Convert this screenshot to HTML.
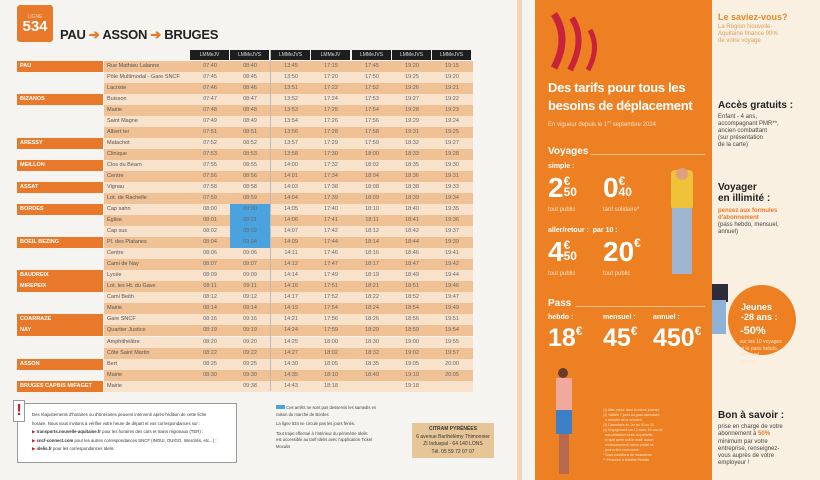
<!DOCTYPE html>
<html><head><meta charset="utf-8">
<style>
*{margin:0;padding:0;box-sizing:border-box}
body{width:820px;height:480px;overflow:hidden;background:#f6f4f1;font-family:"Liberation Sans",sans-serif;position:relative}
.a{position:absolute}
.row{position:absolute;left:104px;width:369px;height:11px}
.town{position:absolute;left:17px;width:86px;height:11px;background:#e8792a;color:#fff;font-size:5.5px;font-weight:bold;line-height:11px;padding-left:3px;white-space:nowrap}
.stop{position:absolute;left:107px;font-size:5.5px;line-height:11px;color:#555;white-space:nowrap}
.t{position:absolute;width:40px;text-align:center;font-size:5.5px;line-height:11px;color:#666}
.h{position:absolute;top:50px;height:10px;width:39px;background:#1e1e1e;color:#ddd;font-size:5px;text-align:center;line-height:10px}
.w{color:#fff;font-weight:bold;white-space:nowrap}
.sm{font-size:6px;color:#fbe0c6;white-space:nowrap}
.nw{white-space:nowrap}
</style></head><body>
<div class="a" style="left:17px;top:5px;width:36px;height:37px;background:#e8792a;border-radius:3px;color:#fff;text-align:center">
<div style="font-size:5px;margin-top:9px;color:#fbd3b0">LIGNE</div>
<div style="font-size:15px;font-weight:bold;line-height:14px">534</div></div>
<div class="a nw" style="left:60px;top:27px;font-size:13px;font-weight:bold;color:#222;letter-spacing:-0.3px">PAU <span style="color:#e8792a">➔</span> ASSON <span style="color:#e8792a">➔</span> BRUGES</div>
<div id="tbl"></div>
<script>
const d=[
["PAU","Rue Mathieu Lalanne","07:40 08:40 13:45 17:15 17:45 19:20 19:15"],
["","Pôle Multimodal - Gare SNCF","07:45 08:45 13:50 17:20 17:50 19:25 19:20"],
["","Lacoste","07:46 08:46 13:51 17:22 17:52 19:26 19:21"],
["BIZANOS","Buisson","07:47 08:47 13:52 17:24 17:53 19:27 19:22"],
["","Mairie","07:48 08:48 13:53 17:25 17:54 19:28 19:23"],
["","Saint Magne","07:49 08:49 13:54 17:26 17:56 19:29 19:24"],
["","Albert Ier","07:51 08:51 13:56 17:28 17:58 19:31 19:25"],
["ARESSY","Matachot","07:52 08:52 13:57 17:29 17:59 18:32 19:27"],
["","Clinique","07:53 08:53 13:58 17:30 18:00 18:33 19:28"],
["MEILLON","Clos du Béarn","07:55 08:55 14:00 17:32 18:02 18:35 19:30"],
["","Centre","07:56 08:56 14:01 17:34 18:04 18:36 19:31"],
["ASSAT","Vignau","07:58 08:58 14:03 17:38 18:08 18:38 19:33"],
["","Lot. de Rachelle","07:59 08:59 14:04 17:39 18:09 18:39 19:34"],
["BORDES","Cap sahn","08:00 09:00 14:05 17:40 18:10 18:40 19:35"],
["","Église","08:01 09:01 14:06 17:41 18:11 18:41 19:36"],
["","Cap sus","08:02 09:02 14:07 17:42 18:12 18:42 19:37"],
["BOEIL BEZING","Pl. des Platanes","08:04 09:04 14:09 17:44 18:14 18:44 19:39"],
["","Centre","08:06 09:06 14:11 17:46 18:16 18:46 19:41"],
["","Cami de Nay","08:07 09:07 14:12 17:47 18:17 18:47 19:42"],
["BAUDREIX","Lycée","08:09 09:09 14:14 17:49 18:19 18:49 19:44"],
["MIREPEIX","Lot. les Ht. du Gave","08:11 09:11 14:16 17:51 18:21 18:51 19:46"],
["","Cami Beith","08:12 09:12 14:17 17:52 18:22 18:52 19:47"],
["","Mairie","08:14 09:14 14:19 17:54 18:24 18:54 19:49"],
["COARRAZE","Gare SNCF","08:16 09:16 14:21 17:56 18:26 18:56 19:51"],
["NAY","Quartier Justice","08:19 09:19 14:24 17:59 18:29 18:59 19:54"],
["","Amphithéâtre","08:20 09:20 14:25 18:00 18:30 19:00 19:55"],
["","Côte Saint Martin","08:22 09:22 14:27 18:02 18:32 19:02 19:57"],
["ASSON","Bert","08:25 09:25 14:30 18:05 18:35 19:05 20:00"],
["","Mairie","08:30 09:30 14:35 18:10 18:40 19:10 20:05"],
["BRUGES CAPBIS MIFAGET","Mairie","- 09:38 14:43 18:18 - 19:18 -"]];
const cx=[190,230,271,311,352,392,432],hd=["LMMeJV","LMMeJVS","LMMeJVS","LMMeJV","LMMeJVS","LMMeJVS","LMMeJVS"];
let h="";
cx.forEach((x,i)=>h+=`<div class="h" style="left:${x}px">${hd[i]}</div>`);
d.forEach((r,i)=>{const y=61+i*11.02;
h+=`<div class="row" style="top:${y}px;background:${i%2?'#f8e2cb':'#efc194'}"></div>`;
if(r[0])h+=`<div class="town" style="top:${y}px">${r[0]}</div>`;
h+=`<div class="stop" style="top:${y}px">${r[1]}</div>`;
r[2].split(" ").forEach((t,j)=>{let bg=(j==1&&i>=13&&i<=16)?'background:#4aa3df;':'';
h+=`<div class="t" style="left:${cx[j]}px;top:${y}px;${bg}">${t=='-'?'':t}</div>`});});
h+=`<div class="a" style="left:270px;top:50px;width:1px;height:341px;background:#bbb"></div>`;
document.getElementById("tbl").innerHTML=h;
</script>
<div class="a" style="left:17px;top:403px;width:220px;height:60px;border:1px solid #999;background:#fff"></div>
<div class="a" style="left:13px;top:400px;width:12px;height:22px;border:1px solid #999;background:#fff;color:#c0202a;font-weight:bold;font-size:16px;text-align:center;line-height:20px">!</div>
<div class="a nw" style="left:32px;top:411px;font-size:4.3px;line-height:8.5px;color:#333">Des réajustements d'horaires ou d'itinéraires peuvent intervenir après l'édition de cette fiche<br>horaire. Nous vous invitons à vérifier votre heure de départ et vos correspondances sur :<br><span style="color:#c0202a">▶</span> <b>transports.nouvelle-aquitaine.fr</b> pour les horaires des cars et trains régionaux (TER) ;<br><span style="color:#c0202a">▶</span> <b>sncf-connect.com</b> pour les autres correspondances SNCF (INOUI, OUIGO, Intercités, etc...) ;<br><span style="color:#c0202a">▶</span> <b>idelis.fr</b> pour les correspondances Idelis</div>
<div class="a nw" style="left:276px;top:405px;font-size:4.2px;line-height:6.5px;color:#444"><span style="display:inline-block;width:9px;height:4px;background:#4aa3df"></span> Ces arrêts ne sont pas desservis les samedis en<br>raison du marché de Bordes<div style="margin-top:3px">La ligne 534 ne circule pas les jours fériés.</div><div style="margin-top:3px">Tout trajet effectué à l'intérieur du périmètre Idelis<br>est accessible au tarif Idelis avec l'application Ticket<br>Mocalis</div></div>
<div class="a nw" style="left:412px;top:423px;width:82px;height:35px;background:#e6c698;font-size:5px;text-align:center;line-height:7.5px;color:#333;padding-top:3px"><b>CITRAM PYRÉNÉES</b><br>6 avenue Barthélémy Thimonnier<br>ZI Induspal - 64 140 LONS<br>Tél. 05 59 72 07 07</div>
<div class="a" style="left:517px;top:0;width:5px;height:480px;background:#ec9a5a;opacity:.35"></div>
<div class="a" style="left:535px;top:0;width:177px;height:480px;background:#ec8022"></div>
<div class="a" style="left:712px;top:0;width:108px;height:480px;background:#f9f0e2"></div>
<svg class="a" style="left:540px;top:8px" width="70" height="65"><path d="M14 6 Q30 30 14 60" stroke="#c8233a" stroke-width="7" fill="none"/><path d="M32 10 Q46 32 30 62" stroke="#c8233a" stroke-width="6" fill="none"/><path d="M50 22 Q60 40 48 62" stroke="#c8233a" stroke-width="5" fill="none"/></svg>
<div class="a w" style="left:548px;top:79px;font-size:13px;line-height:18px;letter-spacing:-0.3px">Des tarifs pour tous les<br>besoins de déplacement</div>
<div class="a sm" style="left:548px;top:119px">En vigueur depuis le 1<sup style="font-size:4px">er</sup> septembre 2024</div>
<div class="a w" style="left:548px;top:146px;font-size:10px">Voyages</div>
<div class="a" style="left:590px;top:154px;width:115px;height:1px;background:#f6c08a"></div>
<div class="a w" style="left:548px;top:163px;font-size:7px">simple :</div>
<div class="a w" style="left:548px;top:172px;font-size:28px">2<span style="font-size:12px;display:inline-block;line-height:11px;vertical-align:top;margin-top:4px">€<br>50</span></div>
<div class="a w" style="left:603px;top:172px;font-size:28px">0<span style="font-size:12px;display:inline-block;line-height:11px;vertical-align:top;margin-top:4px">€<br>40</span></div>
<div class="a sm" style="left:548px;top:207px">tout public</div><div class="a sm" style="left:603px;top:207px">tarif solidaire*</div>
<div class="a w" style="left:548px;top:227px;font-size:7px">aller/retour :&nbsp; par 10 :</div>
<div class="a w" style="left:548px;top:236px;font-size:28px">4<span style="font-size:12px;display:inline-block;line-height:11px;vertical-align:top;margin-top:4px">€<br>50</span></div>
<div class="a w" style="left:603px;top:236px;font-size:28px">20<span style="font-size:12px;vertical-align:top">€</span></div>
<div class="a sm" style="left:548px;top:271px">tout public</div><div class="a sm" style="left:603px;top:271px">tout public</div>
<div class="a w" style="left:548px;top:298px;font-size:10px">Pass</div>
<div class="a" style="left:575px;top:306px;width:130px;height:1px;background:#f6c08a"></div>
<div class="a w" style="left:548px;top:314px;font-size:7px">hebdo :</div><div class="a w" style="left:603px;top:314px;font-size:7px">mensuel :</div><div class="a w" style="left:653px;top:314px;font-size:7px">annuel :</div>
<div class="a w" style="left:548px;top:324px;font-size:25px">18<span style="font-size:12px;vertical-align:top">€</span></div>
<div class="a w" style="left:603px;top:324px;font-size:25px">45<span style="font-size:12px;vertical-align:top">€</span></div>
<div class="a w" style="left:653px;top:324px;font-size:25px">450<span style="font-size:12px;vertical-align:top">€</span></div>
<div class="a" style="left:671px;top:170px;width:22px;height:40px;background:#f0c23a;border-radius:4px"></div>
<div class="a" style="left:676px;top:168px;width:12px;height:12px;background:#e0a080;border-radius:50%"></div>
<div class="a" style="left:672px;top:208px;width:20px;height:66px;background:#9fb6d0"></div>
<div class="a" style="left:558px;top:368px;width:10px;height:10px;background:#6a3b2a;border-radius:50%"></div>
<div class="a" style="left:556px;top:378px;width:16px;height:34px;background:#f0a99a"></div>
<div class="a" style="left:556px;top:410px;width:16px;height:24px;background:#3c7fc4"></div>
<div class="a" style="left:559px;top:434px;width:10px;height:40px;background:#b86a4e"></div>
<div class="a nw" style="left:603px;top:408px;font-size:3.4px;line-height:5px;color:#fde3c8">(1) Aller-retour dans la même journée.<br>(2) Validité 7 jours ou pass calendaire<br>&nbsp;&nbsp;à compter de la semaine.<br>(3) Calendaire du 1er au 30 ou 31.<br>(4) Engagement sur 12 mois. En cas de<br>&nbsp;&nbsp;non utilisation totale ou partielle,<br>&nbsp;&nbsp;et quel qu'en soit le motif, aucun<br>&nbsp;&nbsp;remboursement même partiel ne<br>&nbsp;&nbsp;pourra être remboursé.<br>* Sous conditions de ressources.<br>** Personne à Mobilité Réduite</div>
<div class="a nw" style="left:718px;top:12px;font-size:9px;font-weight:bold;color:#e08a2a">Le saviez-vous?</div>
<div class="a nw" style="left:718px;top:24px;font-size:6px;line-height:7px;color:#d9a060">La Région Nouvelle-<br>Aquitaine finance 90%<br>de votre voyage</div>
<div class="a nw" style="left:718px;top:100px;font-size:10px;font-weight:bold;color:#222">Accès gratuits :</div>
<div class="a nw" style="left:718px;top:114px;font-size:6px;line-height:7px;color:#444">Enfant - 4 ans,<br>accompagnant PMR**,<br>ancien combattant<br>(sur présentation<br>de la carte)</div>
<div class="a nw" style="left:718px;top:182px;font-size:10px;font-weight:bold;color:#222;line-height:11px">Voyager<br>en illimité :</div>
<div class="a nw" style="left:718px;top:208px;font-size:6px;line-height:7px;color:#444"><b style="color:#e8792a">pensez aux formules<br>d'abonnement</b><br>(pass hebdo, mensuel,<br>annuel)</div>
<div class="a" style="left:728px;top:285px;width:68px;height:70px;background:#ec8022;border-radius:50%"></div>
<div class="a" style="left:712px;top:284px;width:16px;height:18px;background:#2c2c3c"></div>
<div class="a" style="left:712px;top:300px;width:14px;height:34px;background:#8fb2d8"></div>
<div class="a nw" style="left:741px;top:302px;font-size:9px;font-weight:bold;color:#fff;line-height:10px">Jeunes<br>-28 ans :</div>
<div class="a nw" style="left:740px;top:325px;font-size:11px;font-weight:bold;color:#fff">-50%</div>
<div class="a nw" style="left:740px;top:339px;font-size:5px;line-height:6.5px;color:#fde3c8">sur les 10 voyages<br>et le pass hebdo,<br>mensuel,<br>annuel.</div>
<div class="a nw" style="left:718px;top:410px;font-size:10px;font-weight:bold;color:#222">Bon à savoir :</div>
<div class="a nw" style="left:718px;top:424px;font-size:6px;line-height:7.3px;color:#444">prise en charge de votre<br>abonnement à <b style="color:#e8792a">50%</b><br>minimum par votre<br>entreprise, renseignez-<br>vous auprès de votre<br>employeur !</div>
</body></html>
